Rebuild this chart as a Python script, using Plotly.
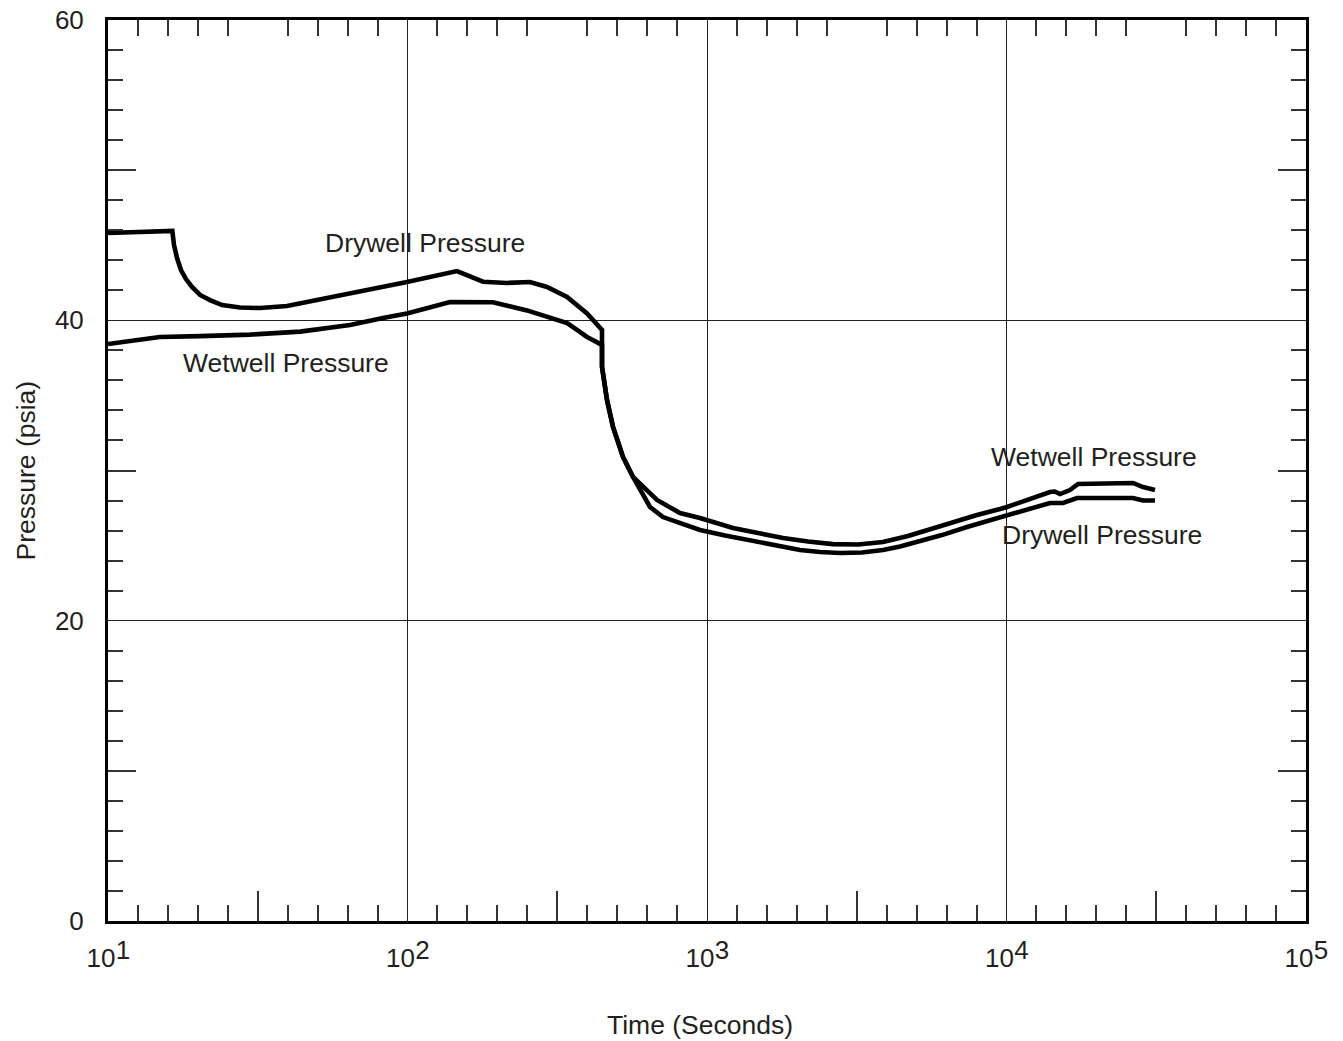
import numpy as np
import plotly.graph_objects as go

# Drywell pressure history: time (s) vs. pressure (psia)
drywell_time = [10, 16.4, 16.61, 17.0, 17.53, 18.21, 19.08, 20.3, 21.9, 24.02, 27.6, 32.2,
                39.6, 56.4, 82.8, 99.6, 146.3, 178.7, 214.9, 256.4, 292.3, 341.0, 397.6, 446.1,
                446.1, 463.6, 485.5, 524.2, 566.2, 645.1, 713.0, 947.6, 1149, 1392, 1687,
                2045, 2384, 2781, 3293, 3869, 4411, 5025, 6088, 7382, 8478, 9513,
                13970, 15440, 17200, 26450, 28560, 31320]
drywell_psia = [45.82, 45.95, 45.02, 44.15, 43.35, 42.75, 42.22, 41.69, 41.35, 41.02, 40.85, 40.82,
                40.95, 41.55, 42.22, 42.55, 43.28, 42.57, 42.49, 42.55, 42.22, 41.55, 40.46, 39.36,
                36.9, 34.69, 32.90, 30.90, 29.57, 27.57, 26.90, 26.04, 25.67, 25.37, 25.04,
                24.71, 24.57, 24.51, 24.54, 24.71, 24.94, 25.24, 25.70, 26.24, 26.60, 26.84,
                27.84, 27.84, 28.17, 28.17, 28.0, 28.0]

# Wetwell pressure history: time (s) vs. pressure (psia)
wetwell_time = [10, 12.1, 14.9, 20.3, 29.8, 43.8, 64.3, 82.8, 99.6, 138.7, 193.0, 250.6,
                341.0, 368.1, 397.6, 446.1,
                446.1, 463.6, 485.5, 524.2, 566.2, 680.8, 812.5, 947.6, 1221, 1480, 1794,
                2174, 2635, 3193, 3869, 4690, 5683, 6730, 7970, 9513, 10040,
                13970, 14500, 15090, 16290, 17330, 26450, 28560, 31320]
wetwell_psia = [38.42, 38.62, 38.89, 38.95, 39.05, 39.25, 39.69, 40.15, 40.45, 41.22, 41.20, 40.66,
                39.82, 39.36, 38.89, 38.36,
                36.9, 34.69, 32.90, 30.90, 29.57, 28.04, 27.17, 26.84, 26.17, 25.84, 25.50,
                25.27, 25.10, 25.07, 25.24, 25.64, 26.17, 26.64, 27.04, 27.44, 27.57,
                28.57, 28.60, 28.43, 28.70, 29.10, 29.17, 28.90, 28.70]

# Axis tick labels
y_major = [0, 20, 40, 60]
x_decades = [10, 100, 1000, 10000, 100000]
x_base = ["10", "10", "10", "10", "10"]
x_exponents = ["1", "2", "3", "4", "5"]

FONT = "Liberation Sans, Arial, Helvetica, sans-serif"
TXT = "#231f20"
FS = 26
TICKC = "#333333"

# evenly spaced (in log units) decoration ticks inside each decade
x_mid = [10 ** (d + 0.5) for d in range(1, 5)]
x_minor = [10 ** (d + k / 10) for d in range(1, 5) for k in range(1, 10) if k != 5]
y_mid = [10, 30, 50]
y_minor = [v for v in range(2, 60, 2) if v % 10 != 0]

fig = go.Figure()
fig.add_trace(go.Scatter(x=drywell_time, y=drywell_psia, mode="lines",
                         line=dict(color="black", width=4.6), name="Drywell Pressure",
                         xaxis="x", yaxis="y", showlegend=False))
fig.add_trace(go.Scatter(x=wetwell_time, y=wetwell_psia, mode="lines",
                         line=dict(color="black", width=4.6), name="Wetwell Pressure",
                         xaxis="x2", yaxis="y2", showlegend=False))

fig.update_layout(
    width=1343, height=1041,
    margin=dict(l=108, r=37, t=20, b=120, autoexpand=False),
    paper_bgcolor="white", plot_bgcolor="white",
    font=dict(family=FONT, size=FS, color=TXT),
    # base "10" of the decade labels, decade grid lines, short inner ticks
    xaxis=dict(type="log", range=[1, 5], tickvals=x_decades, ticktext=x_base,
               ticks="", showgrid=True, gridcolor="#222222", gridwidth=1.2,
               showline=True, linecolor="black", linewidth=3, mirror="ticks",
               zeroline=False, ticklabelstandoff=12, ticklabelshift=-7, automargin=False,
               tickfont=dict(family=FONT, size=FS, color=TXT),
               minor=dict(tickvals=x_minor, ticks="inside", ticklen=16, tickwidth=1.5,
                          tickcolor=TICKC, showgrid=False)),
    yaxis=dict(range=[0, 60], tickvals=y_major, ticks="", showgrid=True,
               gridcolor="#222222", gridwidth=1.2, showline=True, linecolor="black",
               linewidth=3, mirror=True, zeroline=False, ticklabelstandoff=16,
               automargin=False, tickfont=dict(family=FONT, size=FS, color=TXT)),
    # raised exponents of the decade labels, long mid-decade ticks
    xaxis2=dict(type="log", range=[1, 5], overlaying="x", anchor="y", side="bottom",
                tickvals=x_decades, ticktext=x_exponents, ticks="",
                showgrid=False, showline=False, mirror="ticks", zeroline=False,
                automargin=False, ticklabelstandoff=11, ticklabelshift=15,
                tickfont=dict(family=FONT, size=FS, color=TXT),
                minor=dict(tickvals=x_mid, ticks="inside", ticklen=30, tickwidth=1.5,
                           tickcolor=TICKC, showgrid=False)),
    yaxis2=dict(range=[0, 60], overlaying="y", anchor="x", side="left",
                tickvals=y_mid, ticks="inside", ticklen=28, tickwidth=1.5, tickcolor=TICKC,
                showticklabels=False, showgrid=False, showline=False, mirror="ticks",
                zeroline=False, automargin=False,
                minor=dict(tickvals=y_minor, ticks="inside", ticklen=15, tickwidth=1.5,
                           tickcolor=TICKC, showgrid=False)),
)

# curve labels (x in log10 seconds for the log axis)
labels = [
    ("Drywell Pressure", 114.4, 45.15),
    ("Wetwell Pressure", 39.3, 37.16),
    ("Wetwell Pressure", 19600, 30.9),
    ("Drywell Pressure", 20840, 25.7),
]
for text, t, p in labels:
    fig.add_annotation(x=np.log10(t), y=p, xref="x", yref="y", text=text,
                       showarrow=False, xanchor="center", yanchor="middle",
                       font=dict(family=FONT, size=26.5, color=TXT))

# axis titles
fig.add_annotation(x=0.494, y=0, xref="paper", yref="paper", yshift=-104,
                   text="Time (Seconds)", showarrow=False, xanchor="center",
                   yanchor="middle", font=dict(family=FONT, size=26.5, color=TXT))
fig.add_annotation(x=0, y=0.5, xref="paper", yref="paper", xshift=-83,
                   text="Pressure (psia)", showarrow=False, textangle=-90,
                   xanchor="center", yanchor="middle",
                   font=dict(family=FONT, size=26.5, color=TXT))

fig.write_html("out.html")
